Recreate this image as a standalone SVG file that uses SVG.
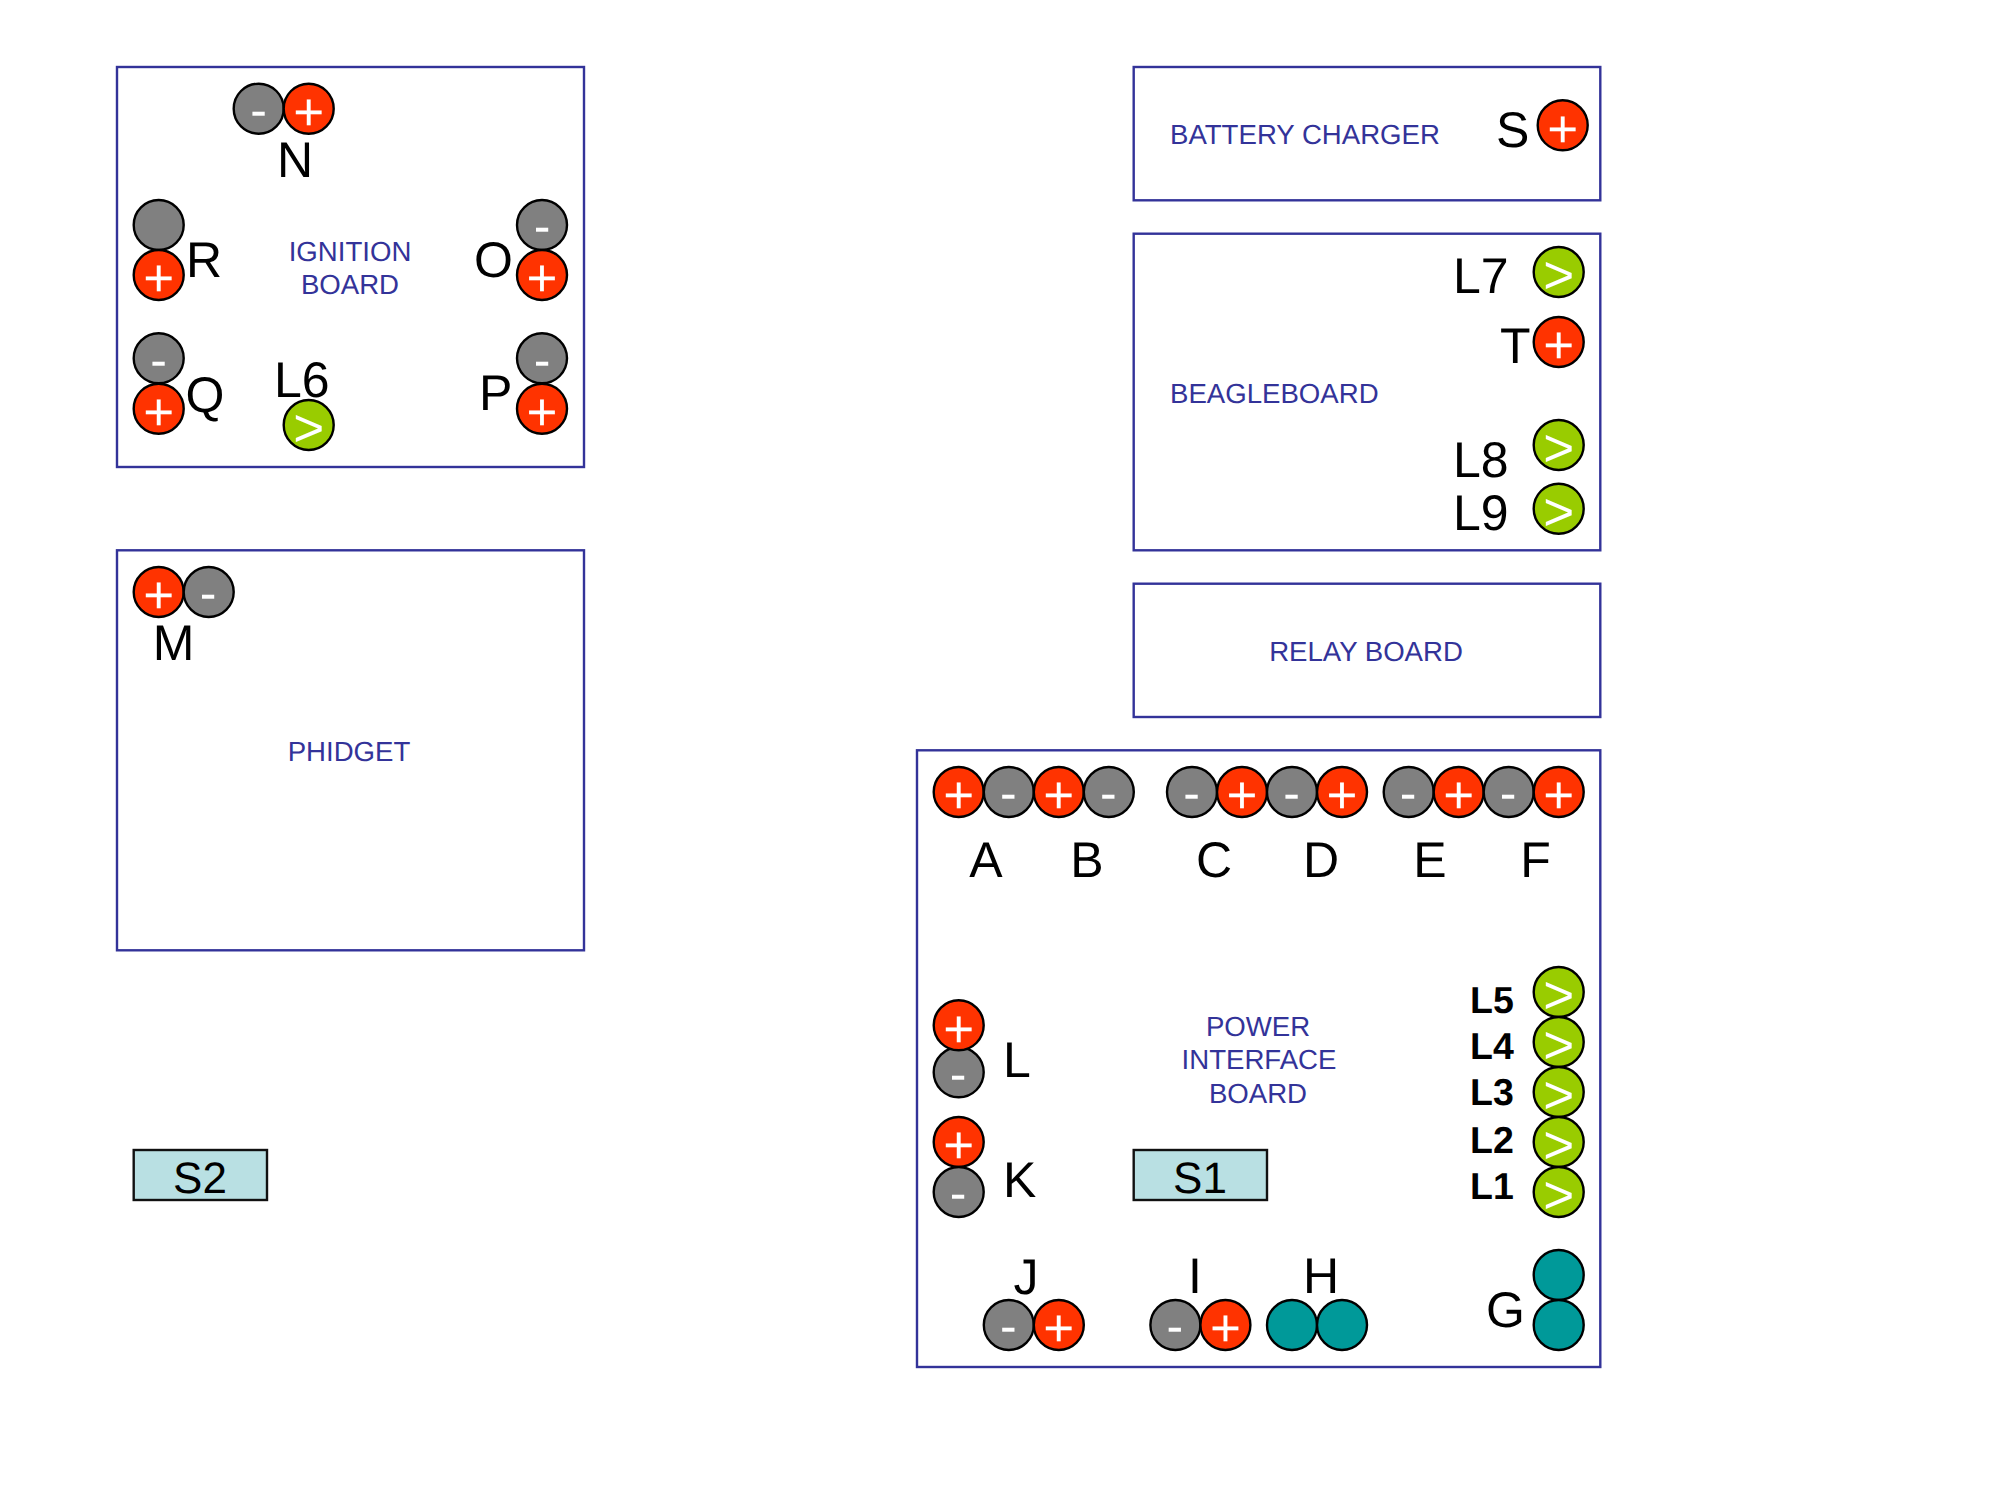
<svg xmlns="http://www.w3.org/2000/svg" width="2000" height="1500" viewBox="0 0 2000 1500">
<style>
text{font-family:"Liberation Sans",Arial,sans-serif;text-rendering:geometricPrecision}
.board{fill:#fff;stroke:#333399;stroke-width:2.4}
.t{font-size:27.6px;fill:#333399}
.m{text-anchor:middle}
.l{font-size:50px;fill:#000}
.b{font-size:37.5px;font-weight:bold;fill:#000}
.s{font-size:44px;fill:#000;text-anchor:middle}
.sw{fill:#b9e0e3;stroke:#111;stroke-width:2.4}
circle{stroke:#000;stroke-width:2.4;r:25px}
.r{fill:#ff3300}.g{fill:#808080}.v{fill:#99cc00}.c{fill:#009999}
.k{font-size:53px;fill:#fff;text-anchor:middle}
.h{font-size:50px;fill:#fff;text-anchor:middle}
</style>
<rect width="2000" height="1500" fill="#fff"/>
<g id="connectors"/>
<g id="ignition-board">
<rect class="board" x="117" y="67" width="467" height="400"/>
<text class="t m" x="350" y="260.5">IGNITION</text><text class="t m" x="350" y="293.5">BOARD</text>
<g id="N"><circle class="g" cx="258.7" cy="108.7"/><text class="h" x="258.7" y="127">-</text><circle class="r" cx="308.7" cy="108.7"/><text class="k" x="308.7" y="130">+</text><text class="l m" x="295" y="177">N</text></g>
<g id="R"><circle class="g" cx="158.7" cy="225"/><circle class="r" cx="158.7" cy="275"/><text class="k" x="158.7" y="296.3">+</text><text class="l" x="186" y="277">R</text></g>
<g id="O"><circle class="g" cx="542" cy="225"/><text class="h" x="542" y="243.3">-</text><circle class="r" cx="542" cy="275"/><text class="k" x="542" y="296.3">+</text><text class="l" x="474" y="277">O</text></g>
<g id="Q"><circle class="g" cx="158.7" cy="358.3"/><text class="h" x="158.7" y="376.6">-</text><circle class="r" cx="158.7" cy="408.7"/><text class="k" x="158.7" y="430">+</text><text class="l" x="185.5" y="411.5">Q</text></g>
<g id="P"><circle class="g" cx="542" cy="358.3"/><text class="h" x="542" y="376.6">-</text><circle class="r" cx="542" cy="408.7"/><text class="k" x="542" y="430">+</text><text class="l" x="479" y="410">P</text></g>
<g id="L6"><circle class="v" cx="308.7" cy="425"/><text class="k" x="308.7" y="446.3">&gt;</text><text class="l" x="274" y="397">L6</text></g>
</g>
<g id="phidget">
<rect class="board" x="117" y="550.3" width="467" height="400"/>
<text class="t m" x="349" y="761">PHIDGET</text>
<g id="M"><circle class="r" cx="158.7" cy="592"/><text class="k" x="158.7" y="613.3">+</text><circle class="g" cx="208.7" cy="592"/><text class="h" x="208" y="610.3">-</text><text class="l m" x="173.5" y="660">M</text></g>
</g>
<g id="S2"><rect class="sw" x="133.7" y="1150" width="133.3" height="50"/><text class="s" x="200" y="1193">S2</text></g>
<g id="battery-charger">
<rect class="board" x="1133.7" y="67" width="466.6" height="133.3"/>
<text class="t" x="1170" y="143.5">BATTERY CHARGER</text>
<g id="S"><circle class="r" cx="1562.7" cy="125.3"/><text class="k" x="1562.7" y="146.6">+</text><text class="l" x="1496" y="147">S</text></g>
</g>
<g id="beagleboard">
<rect class="board" x="1133.7" y="233.7" width="466.6" height="316.6"/>
<text class="t" x="1170" y="402.7">BEAGLEBOARD</text>
<g id="L7"><circle class="v" cx="1558.7" cy="272"/><text class="k" x="1558.7" y="293.3">&gt;</text><text class="l" x="1453" y="293">L7</text></g>
<g id="T"><circle class="r" cx="1558.7" cy="342"/><text class="k" x="1558.7" y="363.3">+</text><text class="l" x="1500" y="363">T</text></g>
<g id="L8"><circle class="v" cx="1558.7" cy="445"/><text class="k" x="1558.7" y="466.3">&gt;</text><text class="l" x="1453" y="477">L8</text></g>
<g id="L9"><circle class="v" cx="1558.7" cy="508.7"/><text class="k" x="1558.7" y="530">&gt;</text><text class="l" x="1453" y="530">L9</text></g>
</g>
<g id="relay-board">
<rect class="board" x="1133.7" y="583.7" width="466.6" height="133.3"/>
<text class="t m" x="1366" y="660.5">RELAY BOARD</text>
</g>
<g id="power-interface-board">
<rect class="board" x="917" y="750.3" width="683.3" height="616.7"/>
<text class="t m" x="1258" y="1035.5">POWER</text><text class="t m" x="1259" y="1068.5">INTERFACE</text><text class="t m" x="1258" y="1102.5">BOARD</text>
<g id="A"><circle class="r" cx="958.7" cy="792"/><text class="k" x="958.7" y="813.3">+</text><circle class="g" cx="1008.8" cy="792"/><text class="h" x="1008.3" y="810.3">-</text><text class="l m" x="986" y="877">A</text></g>
<g id="B"><circle class="r" cx="1058.8" cy="792"/><text class="k" x="1058.8" y="813.3">+</text><circle class="g" cx="1108.8" cy="792"/><text class="h" x="1108.3" y="810.3">-</text><text class="l m" x="1087" y="877">B</text></g>
<g id="C"><circle class="g" cx="1192" cy="792"/><text class="h" x="1191.5" y="810.3">-</text><circle class="r" cx="1242" cy="792"/><text class="k" x="1242" y="813.3">+</text><text class="l m" x="1214" y="877">C</text></g>
<g id="D"><circle class="g" cx="1292" cy="792"/><text class="h" x="1291.5" y="810.3">-</text><circle class="r" cx="1342" cy="792"/><text class="k" x="1342" y="813.3">+</text><text class="l m" x="1321" y="877">D</text></g>
<g id="E"><circle class="g" cx="1408.7" cy="792"/><text class="h" x="1408.2" y="810.3">-</text><circle class="r" cx="1458.7" cy="792"/><text class="k" x="1458.7" y="813.3">+</text><text class="l m" x="1430" y="877">E</text></g>
<g id="F"><circle class="g" cx="1508.7" cy="792"/><text class="h" x="1508.2" y="810.3">-</text><circle class="r" cx="1558.7" cy="792"/><text class="k" x="1558.7" y="813.3">+</text><text class="l m" x="1535.5" y="877">F</text></g>
<g id="L"><circle class="g" cx="958.7" cy="1072.3"/><text class="h" x="958.2" y="1090.6">-</text><circle class="r" cx="958.7" cy="1025.3"/><text class="k" x="958.7" y="1046.6">+</text><text class="l" x="1003" y="1077">L</text></g>
<g id="K"><circle class="r" cx="958.7" cy="1142"/><text class="k" x="958.7" y="1163.3">+</text><circle class="g" cx="958.7" cy="1192"/><text class="h" x="958.2" y="1210.3">-</text><text class="l" x="1003" y="1197">K</text></g>
<g id="S1"><rect class="sw" x="1133.7" y="1150" width="133.3" height="50"/><text class="s" x="1200" y="1193">S1</text></g>
<g id="L5"><circle class="v" cx="1558.7" cy="992"/><text class="k" x="1558.7" y="1013.3">&gt;</text><text class="b" x="1470" y="1012.5">L5</text></g>
<g id="L4"><circle class="v" cx="1558.7" cy="1042"/><text class="k" x="1558.7" y="1063.3">&gt;</text><text class="b" x="1470" y="1059">L4</text></g>
<g id="L3"><circle class="v" cx="1558.7" cy="1092"/><text class="k" x="1558.7" y="1113.3">&gt;</text><text class="b" x="1470" y="1105">L3</text></g>
<g id="L2"><circle class="v" cx="1558.7" cy="1142"/><text class="k" x="1558.7" y="1163.3">&gt;</text><text class="b" x="1470" y="1152.5">L2</text></g>
<g id="L1"><circle class="v" cx="1558.7" cy="1192"/><text class="k" x="1558.7" y="1213.3">&gt;</text><text class="b" x="1470" y="1199">L1</text></g>
<g id="J"><circle class="g" cx="1008.8" cy="1325"/><text class="h" x="1008.3" y="1343.3">-</text><circle class="r" cx="1058.8" cy="1325"/><text class="k" x="1058.8" y="1346.3">+</text><text class="l m" x="1026" y="1294">J</text></g>
<g id="I"><circle class="g" cx="1175.4" cy="1325"/><text class="h" x="1174.9" y="1343.3">-</text><circle class="r" cx="1225.4" cy="1325"/><text class="k" x="1225.4" y="1346.3">+</text><text class="l m" x="1195" y="1293">I</text></g>
<g id="H"><circle class="c" cx="1292" cy="1325"/><circle class="c" cx="1342" cy="1325"/><text class="l m" x="1321" y="1293">H</text></g>
<g id="G"><circle class="c" cx="1558.7" cy="1275"/><circle class="c" cx="1558.7" cy="1325"/><text class="l m" x="1505.5" y="1327">G</text></g>
</g>
</svg>
